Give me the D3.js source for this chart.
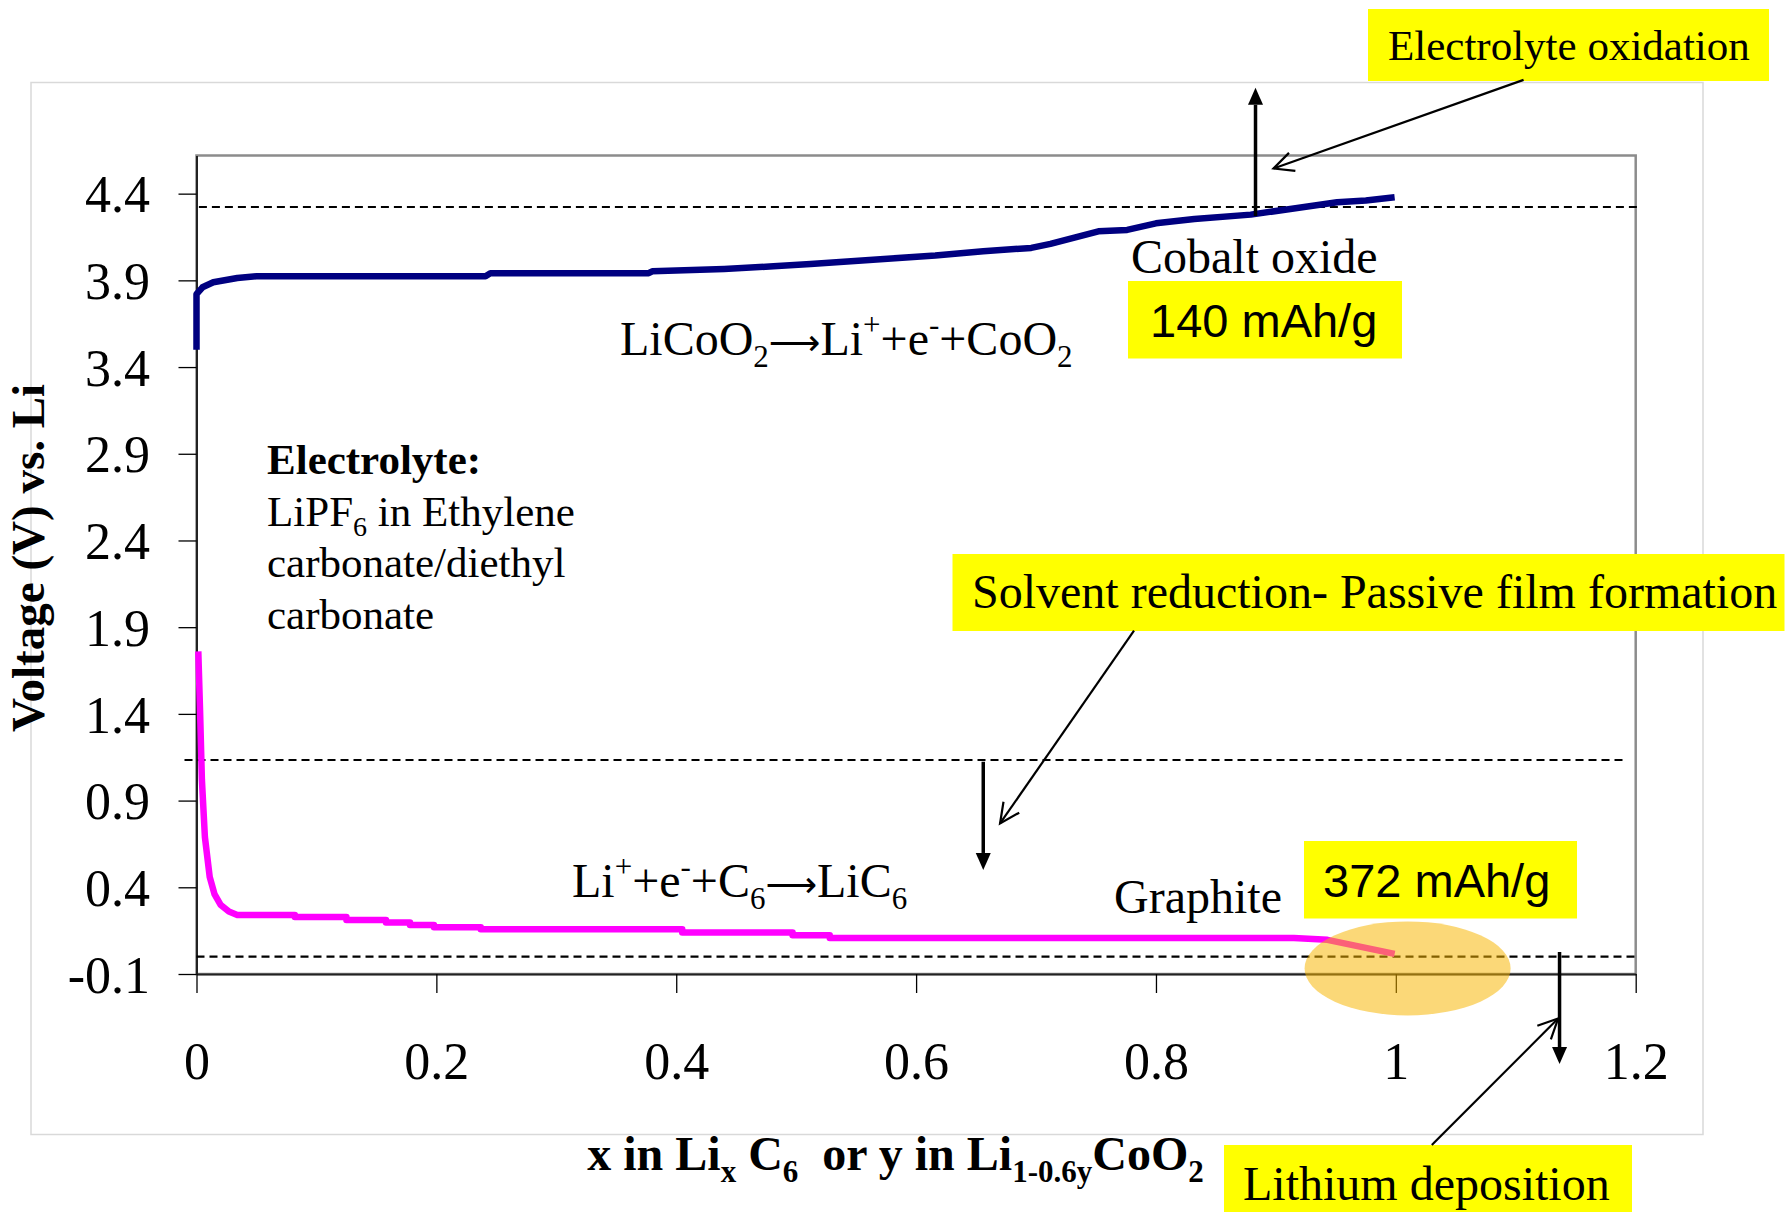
<!DOCTYPE html>
<html><head><meta charset="utf-8">
<script src="https://cdn.jsdelivr.net/npm/d3@7"></script>
<style>body{margin:0;background:#fff} svg{display:block} text{white-space:pre}</style>
</head><body>
<svg id="c" width="1791" height="1212"></svg>
<script>
// ---------- data ----------
const cobaltX = [0, 0, 0.005, 0.014, 0.034, 0.050, 0.241, 0.245, 0.377, 0.380, 0.440, 0.481, 0.512, 0.561, 0.616, 0.656, 0.696, 0.712, 0.752, 0.776, 0.800, 0.832, 0.879, 0.912, 0.951, 0.975, 0.999];
const cobaltV = [3.50, 3.82, 3.86, 3.889, 3.914, 3.924, 3.924, 3.941, 3.941, 3.952, 3.966, 3.981, 3.995, 4.018, 4.043, 4.068, 4.087, 4.110, 4.183, 4.191, 4.229, 4.254, 4.279, 4.312, 4.350, 4.360, 4.379];
const graphiteX = [0.0015, 0.003, 0.0045, 0.007, 0.011, 0.015, 0.020, 0.027, 0.034, 0.082, 0.082, 0.125, 0.125, 0.158, 0.158, 0.178, 0.178, 0.198, 0.198, 0.237, 0.237, 0.405, 0.405, 0.497, 0.497, 0.528, 0.528, 0.915, 0.943, 0.999];
const graphiteV = [1.76, 1.41, 1.02, 0.69, 0.46, 0.36, 0.30, 0.26, 0.24, 0.24, 0.228, 0.228, 0.212, 0.212, 0.197, 0.197, 0.183, 0.183, 0.170, 0.170, 0.158, 0.158, 0.139, 0.139, 0.124, 0.124, 0.107, 0.107, 0.097, 0.016];
const xTicks = [0, 0.2, 0.4, 0.6, 0.8, 1, 1.2];
const xTickLabels = ["0", "0.2", "0.4", "0.6", "0.8", "1", "1.2"];
const yTicks = [-0.1, 0.4, 0.9, 1.4, 1.9, 2.4, 2.9, 3.4, 3.9, 4.4];
const yTickLabels = ["-0.1", "0.4", "0.9", "1.4", "1.9", "2.4", "2.9", "3.4", "3.9", "4.4"];
// dashed reference voltages with their x extents (data units)
const refV = [4.323, 1.134, 0.0];
const refX0 = [0.002, -0.01, 0.0];
const refX1 = [1.203, 1.19, 1.2];
// arrows in data units: [x1, y1, x2, y2, kind]
const arrows = [
  [0.883, 4.271, 0.883, 5.01, "filled"],
  [1.1065, 5.056, 0.898, 4.545, "open"],
  [0.656, 1.124, 0.656, 0.50, "filled"],
  [0.7817, 1.880, 0.670, 0.768, "open"],
  [1.1365, 0.027, 1.1365, -0.619, "filled"],
  [1.030, -1.086, 1.1353, -0.357, "open"]
];
// highlight ellipse (data units): cx, cy, rx, ry
const ellipseD = [1.0098, -0.068, 0.0859, 0.271];

// ---------- setup ----------
const svg = d3.select("#c");
const W = 1791, H = 1212;
const x = d3.scaleLinear().domain([0, 1.2]).range([196.5, 1635.7]);
const y = d3.scaleLinear().domain([-0.1, 4.62]).range([974, 155.5]);
const SERIF = "'Liberation Serif','Times New Roman',serif";
const SANS = "'Liberation Sans',Arial,sans-serif";
const ARROWFONT = "'DejaVu Sans',sans-serif";

svg.append("rect").attr("width", W).attr("height", H).attr("fill", "#fff");
// outer frame
svg.append("rect").attr("x", 31).attr("y", 82.5).attr("width", 1672).attr("height", 1052)
  .attr("fill", "none").attr("stroke", "#d9d9d9").attr("stroke-width", 1.5);

// plot border
svg.append("rect").attr("x", x(0)).attr("y", y(4.62)).attr("width", x(1.2) - x(0)).attr("height", y(-0.1) - y(4.62))
  .attr("fill", "none").attr("stroke", "#8c8c8c").attr("stroke-width", 2.5);

// axes
const yAxis = svg.append("g").attr("transform", `translate(${x(0)},0)`)
  .call(d3.axisLeft(y).tickValues(yTicks).tickSize(18).tickSizeOuter(0).tickFormat((d, i) => yTickLabels[i]));
yAxis.select(".domain").attr("stroke", "#222").attr("stroke-width", 2);
yAxis.selectAll(".tick line").attr("stroke", "#000").attr("stroke-width", 1.3);
yAxis.selectAll(".tick text").attr("x", -46.5).attr("dy", "0.35em")
  .style("font-family", SERIF).style("font-size", "52px").attr("fill", "#000");

const xAxis = svg.append("g").attr("transform", `translate(0,${y(-0.1)})`)
  .call(d3.axisBottom(x).tickValues(xTicks).tickSize(19).tickSizeOuter(0).tickFormat((d, i) => xTickLabels[i]));
xAxis.select(".domain").attr("stroke", "#222").attr("stroke-width", 2);
xAxis.selectAll(".tick line").attr("stroke", "#000").attr("stroke-width", 1.3);
xAxis.selectAll(".tick text").attr("y", 105).attr("dy", 0)
  .style("font-family", SERIF).style("font-size", "52px").attr("fill", "#000");

// dashed reference lines
svg.append("g").selectAll("line").data(refV).join("line")
  .attr("x1", (d, i) => x(refX0[i])).attr("x2", (d, i) => x(refX1[i]))
  .attr("y1", d => y(d)).attr("y2", d => y(d))
  .attr("stroke", "#000").attr("stroke-width", 2.2).attr("stroke-dasharray", "8,5");

// series lines
const line = d3.line().x(d => x(d[0])).y(d => y(d[1]));
svg.append("path").datum(cobaltX.map((v, i) => [v, cobaltV[i]])).attr("d", line)
  .attr("fill", "none").attr("stroke", "#000080").attr("stroke-width", 6.5).attr("stroke-linejoin", "round");
svg.append("path").datum(graphiteX.map((v, i) => [v, graphiteV[i]])).attr("d", line)
  .attr("fill", "none").attr("stroke", "#ff00ff").attr("stroke-width", 6.5).attr("stroke-linejoin", "round");

// rich text helper
function rich(g, px, py, segs, size, family, weight, anchor) {
  const t = g.append("text").attr("x", px).attr("y", py)
    .style("font-family", family).style("font-size", size + "px").style("font-weight", weight || "normal")
    .attr("text-anchor", anchor || "start").attr("fill", "#000");
  let cur = 0;
  segs.forEach(s => {
    const kind = Array.isArray(s) ? s[1] : null;
    const txt = Array.isArray(s) ? s[0] : s;
    const off = kind === "sub" ? size * 0.25 : kind === "sup" ? -size * 0.42 : 0;
    const ts = t.append("tspan").attr("dy", off - cur).text(txt);
    if (kind === "sub" || kind === "sup") ts.style("font-size", Math.round(size * 0.65) + "px");
    if (kind === "arrow") ts.style("font-family", ARROWFONT).style("font-size", Math.round(size * 0.74) + "px");
    cur = off;
  });
  return t;
}
const ann = svg.append("g");

// yellow boxes
const boxes = [
  [1368, 9, 401, 72],
  [952.5, 554, 832, 77],
  [1128, 281, 274, 77.5],
  [1304, 841, 273, 77.5],
  [1224, 1145, 408, 67]
];
ann.selectAll("rect.box").data(boxes).join("rect").attr("class", "box")
  .attr("x", d => d[0]).attr("y", d => d[1]).attr("width", d => d[2]).attr("height", d => d[3]).attr("fill", "#ffff00");

rich(ann, 1388, 60, ["Electrolyte oxidation"], 43, SERIF);
rich(ann, 972, 608, ["Solvent reduction- Passive film formation"], 48, SERIF);
rich(ann, 1243, 1200, ["Lithium deposition"], 48, SERIF);
rich(ann, 1150, 337, ["140 mAh/g"], 47, SANS);
rich(ann, 1323, 897, ["372 mAh/g"], 47, SANS);
rich(ann, 1131, 273, ["Cobalt oxide"], 48, SERIF);
rich(ann, 1114, 913, ["Graphite"], 48, SERIF);
rich(ann, 620, 355, ["LiCoO", ["2", "sub"], ["\u27F6", "arrow"], "Li", ["+", "sup"], "+e", ["-", "sup"], "+CoO", ["2", "sub"]], 48, SERIF);
rich(ann, 572, 897, ["Li", ["+", "sup"], "+e", ["-", "sup"], "+C", ["6", "sub"], ["\u27F6", "arrow"], "LiC", ["6", "sub"]], 48, SERIF);

rich(ann, 267, 474, ["Electrolyte:"], 43, SERIF, "bold");
rich(ann, 267, 525.5, ["LiPF", ["6", "sub"], " in Ethylene"], 43, SERIF);
rich(ann, 267, 577, ["carbonate/diethyl"], 43, SERIF);
rich(ann, 267, 628.5, ["carbonate"], 43, SERIF);

// axis titles
svg.append("text").attr("transform", "translate(44,558) rotate(-90)").attr("text-anchor", "middle")
  .style("font-family", SERIF).style("font-size", "47px").style("font-weight", "bold").text("Voltage (V) vs. Li");
rich(svg, 895.5, 1170, ["x in Li", ["x", "sub"], " C", ["6", "sub"], "  or y in Li", ["1-0.6y", "sub"], "CoO", ["2", "sub"]], 48, SERIF, "bold", "middle");

// arrows
function arrow(g, a) {
  const [x1d, y1d, x2d, y2d, kind] = a;
  const X1 = x(x1d), Y1 = y(y1d), X2 = x(x2d), Y2 = y(y2d);
  const ang = Math.atan2(Y2 - Y1, X2 - X1);
  if (kind === "filled") {
    const L = 17, hw = 7.5;
    const bx = X2 - L * Math.cos(ang), by = Y2 - L * Math.sin(ang);
    g.append("line").attr("x1", X1).attr("y1", Y1).attr("x2", bx).attr("y2", by)
      .attr("stroke", "#000").attr("stroke-width", 3.5);
    const px = -Math.sin(ang), py = Math.cos(ang);
    g.append("path").attr("d", `M${X2},${Y2}L${bx + hw * px},${by + hw * py}L${bx - hw * px},${by - hw * py}Z`).attr("fill", "#000");
  } else {
    g.append("line").attr("x1", X1).attr("y1", Y1).attr("x2", X2).attr("y2", Y2)
      .attr("stroke", "#000").attr("stroke-width", 2.2);
    const L = 22, sp = 0.45;
    const p1 = [X2 - L * Math.cos(ang - sp), Y2 - L * Math.sin(ang - sp)];
    const p2 = [X2 - L * Math.cos(ang + sp), Y2 - L * Math.sin(ang + sp)];
    g.append("path").attr("d", `M${p1[0]},${p1[1]}L${X2},${Y2}L${p2[0]},${p2[1]}`)
      .attr("fill", "none").attr("stroke", "#000").attr("stroke-width", 2.2);
  }
}
arrows.forEach(a => arrow(ann, a));

// highlight ellipse (on top)
svg.append("ellipse").attr("cx", x(ellipseD[0])).attr("cy", y(ellipseD[1]))
  .attr("rx", x(ellipseD[2]) - x(0)).attr("ry", y(0) - y(ellipseD[3]))
  .attr("fill", "#f7b500").attr("fill-opacity", 0.53);
</script>
</body></html>
